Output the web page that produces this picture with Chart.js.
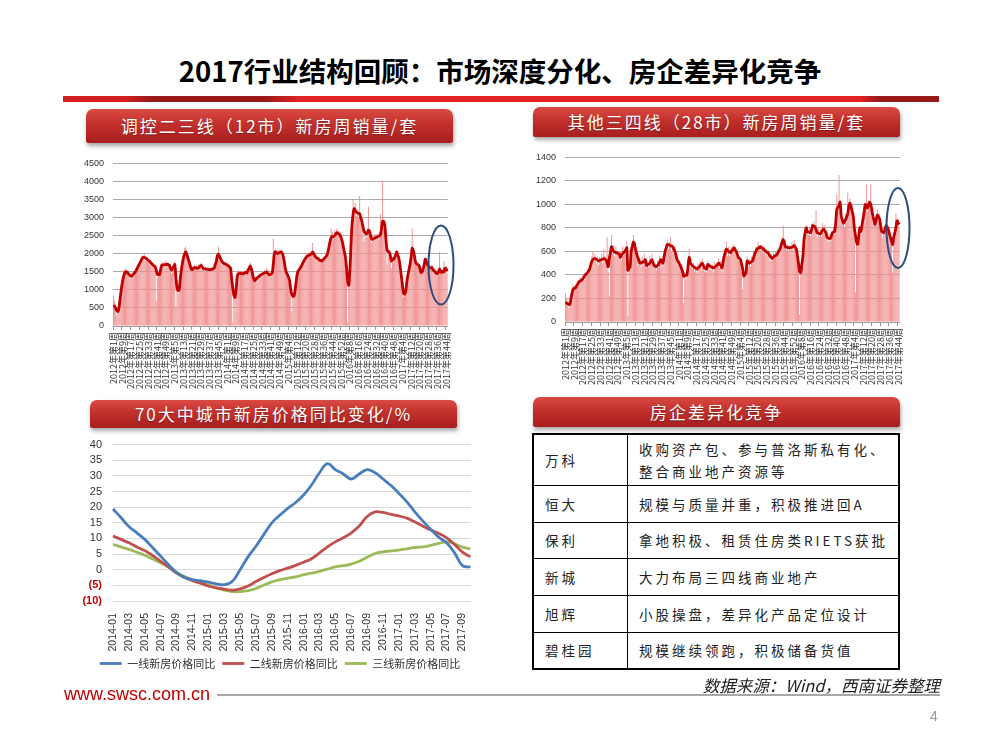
<!DOCTYPE html>
<html lang="zh-CN">
<head>
<meta charset="UTF-8">
<title>2017行业结构回顾</title>
<script src="https://cdn.jsdelivr.net/npm/chart.js@4.4.0/dist/chart.umd.min.js"></script>
<style>
  html, body { margin: 0; padding: 0; background: #fff; }
  body { width: 1000px; height: 750px; position: relative; overflow: hidden;
         font-family: "Noto Sans CJK SC", "Noto Sans", sans-serif; }
  .title { position: absolute; left: 0; top: 51px; width: 1000px; text-align: center;
           font-size: 27.5px; line-height: 38px; font-weight: bold; color: #000; }
  .topbar { position: absolute; left: 63px; top: 96px; width: 876px; height: 6px;
            background: linear-gradient(to right, #D41F1F 0%, #D41F1F 7%, #9A1A1A 10%, #9A1A1A 23%,
                        #E02222 27%, #E02222 91%, #9A1A1A 93%, #9A1A1A 100%); }
  .banner { position: absolute; color: #fff; text-align: center; font-size: 17px; letter-spacing: 2px;
            border-radius: 7px 7px 2px 2px;
            background: linear-gradient(#DA4A44 0%, #C2302C 45%, #A81E1E 100%);
            box-shadow: 1px 3px 4px rgba(0,0,0,0.35); text-shadow: 0 1px 1px rgba(0,0,0,0.3); }
  .box { position: absolute; }
  table.firms { position: absolute; left: 532px; top: 433px; width: 368px; height: 235px;
                border-collapse: collapse; border: 2px solid #000; font-size: 13.5px;
                letter-spacing: 3px; color: #222; }
  table.firms td { border: 1.5px solid #000; padding: 0 0 0 11px; line-height: 22px; }
  table.firms td.name { width: 82px; }
  .url { position: absolute; left: 64px; top: 683px; font-family: Arial, "Liberation Sans", sans-serif;
         font-size: 18px; line-height: 22px; color: #C00000; }
  .rule { position: absolute; left: 217px; top: 694px; width: 723px; height: 0;
          border-top: 2px solid #A8A8A8; z-index: 5; }
  .source { position: absolute; right: 60px; top: 676px; font-size: 16.5px; line-height: 18px;
            font-style: italic; color: #222; }
  .page { position: absolute; left: 930px; top: 708px; font-family: Arial, sans-serif; font-size: 14px; color: #999; }
  svg.ov { position: absolute; left: 0; top: 0; pointer-events: none; }
</style>
</head>
<body>

<div class="title">2017行业结构回顾：市场深度分化、房企差异化竞争</div>
<div class="topbar"></div>

<div class="banner" style="left:86px; top:109px; width:367px; height:34px; line-height:34px;">调控二三线（12市）新房周销量/套</div>
<div class="banner" style="left:533px; top:107px; width:367px; height:30px; line-height:30px;">其他三四线（28市）新房周销量/套</div>
<div class="banner" style="left:90px; top:400px; width:367px; height:28px; line-height:28px;">70大中城市新房价格同比变化/%</div>
<div class="banner" style="left:533px; top:397px; width:367px; height:30px; line-height:30px;">房企差异化竞争</div>

<div class="box" style="left:80px; top:149px; width:380px; height:249px;"><canvas id="sales12-chart"></canvas></div>
<div class="box" style="left:532px; top:143px; width:380px; height:251px;"><canvas id="sales28-chart"></canvas></div>
<div class="box" style="left:73px; top:427px; width:414px; height:252px;"><canvas id="price-chart"></canvas></div>

<table class="firms">
  <tr style="height:51px"><td class="name">万科</td><td>收购资产包、参与普洛斯私有化、<br>整合商业地产资源等</td></tr>
  <tr style="height:37px"><td class="name">恒大</td><td>规模与质量并重，积极推进回A</td></tr>
  <tr style="height:36px"><td class="name">保利</td><td>拿地积极、租赁住房类RIETS获批</td></tr>
  <tr style="height:37px"><td class="name">新城</td><td>大力布局三四线商业地产</td></tr>
  <tr style="height:37px"><td class="name">旭辉</td><td>小股操盘，差异化产品定位设计</td></tr>
  <tr style="height:37px"><td class="name">碧桂园</td><td>规模继续领跑，积极储备货值</td></tr>
</table>

<svg class="ov" width="1000" height="750">
  <ellipse cx="441" cy="265" rx="12.5" ry="39.5" fill="none" stroke="#2E4C7E" stroke-width="2"/>
  <ellipse cx="898" cy="228" rx="11.5" ry="40" fill="none" stroke="#2E4C7E" stroke-width="2"/>
</svg>

<div class="source">数据来源：Wind，西南证券整理</div>
<div class="url">www.swsc.com.cn</div>
<div class="rule"></div>
<div class="page">4</div>

<script>
// 周度横轴：年份及每年周数
const weekYears = [2012, 2013, 2014, 2015, 2016, 2017];
const weeksPerYear = [52, 52, 53, 52, 52, 45];

// 调控二三线（12市）：周销量柱 + 均线
const bar12 = [
  850,700,560,300,450,620,900,1150,1350,1500,
  1550,1600,1450,1520,1380,1300,1450,1350,1500,1420,
  1600,1520,1700,1650,1800,1700,1950,1850,2000,1800,
  1900,1780,1850,1700,1800,1650,1750,1600,1700,700,
  1350,1500,1380,1600,1750,1650,1780,1620,1800,1680,
  1750,1600,1700,1450,1650,1600,1800,500,1000,900,
  1100,1400,1650,1850,2000,2150,2200,1900,1950,1700,
  1750,1500,1650,1550,1700,1580,1680,1550,1700,1600,
  1750,1580,1650,1500,1650,1520,1620,1500,1600,1520,
  1650,1520,1700,1650,1900,2050,2200,1850,1950,1700,
  1800,1680,1780,1650,1750,1600,1700,1500,1200,100,
  950,750,1100,1450,1550,1380,1520,1400,1500,1420,
  1550,1430,1520,1600,1700,1750,1500,1400,1250,1300,
  1350,1250,1420,1300,1450,1380,1500,1400,1550,1450,
  1600,1400,1480,1380,1500,1420,2420,2100,2150,1950,
  2100,1980,2120,2000,2100,1900,1850,1550,1400,1500,
  1300,1200,900,400,850,780,1100,1300,1550,1480,
  1650,1580,1750,1700,1850,1800,1980,1880,2050,1900,
  2050,1950,2300,1950,2050,1850,1950,1800,1900,1750,
  1850,1780,1900,1850,2000,1900,2150,2300,2450,2700,
  2600,2400,2650,2500,2700,2550,2650,2450,2550,2300,
  2300,2000,1950,1550,100,1100,1600,2300,2900,3500,
  3300,3400,3050,3200,3000,3600,2900,3000,2700,2350,
  2650,2450,2700,3300,2550,2450,2300,2500,2350,2550,
  2400,2550,2400,2600,3100,2800,4020,2750,2950,2300,
  1700,2100,1950,2000,1600,1900,1750,2000,1900,2100,
  1850,1950,1550,1450,1100,800,900,1000,1250,1500,
  1600,1800,2000,2700,2000,2050,1700,1800,1650,1750,
  1550,1450,1550,1650,1800,1900,1700,1750,1600,1700,
  1550,1700,1500,1600,1450,1500,1400,1550,2050,1450,
  1550,1450,1800,1550,1650,1450
];
const line12 = [
  580,540,480,430,400,520,750,1000,1200,1350,
  1450,1500,1500,1470,1430,1400,1380,1400,1430,1460,
  1500,1560,1620,1680,1740,1800,1860,1900,1900,1890,
  1870,1840,1810,1790,1750,1720,1690,1660,1640,1550,
  1430,1420,1420,1550,1680,1690,1690,1700,1700,1710,
  1700,1680,1600,1550,1600,1650,1700,1350,1050,980,
  1000,1300,1550,1750,1900,2000,2050,1980,1880,1780,
  1680,1580,1560,1600,1620,1620,1600,1600,1620,1650,
  1680,1640,1600,1580,1580,1570,1570,1560,1560,1560,
  1570,1580,1600,1700,1800,1950,1980,1920,1850,1790,
  1750,1730,1720,1700,1680,1660,1630,1600,1300,1050,
  850,790,1000,1350,1450,1440,1460,1450,1440,1460,
  1470,1480,1470,1550,1600,1660,1580,1450,1320,1250,
  1290,1320,1350,1370,1400,1420,1440,1450,1470,1480,
  1500,1460,1420,1420,1440,1460,1700,2000,2050,2030,
  2000,2020,2040,2050,2020,1950,1800,1600,1480,1420,
  1350,1250,1000,870,820,830,1000,1250,1450,1530,
  1580,1620,1680,1740,1800,1850,1900,1930,1950,1960,
  1980,2000,2050,2000,1950,1900,1880,1860,1830,1810,
  1800,1820,1850,1880,1920,1950,2050,2200,2350,2450,
  2480,2470,2500,2540,2580,2570,2550,2520,2450,2350,
  2200,2050,1900,1600,1250,1130,1500,2200,2800,3100,
  3250,3200,3150,3130,3120,3100,3000,2900,2750,2620,
  2580,2550,2580,2650,2620,2500,2400,2400,2420,2440,
  2450,2460,2480,2500,2520,2700,2900,2880,2780,2400,
  2100,2060,2050,1950,1800,1820,1850,1900,1980,2050,
  1950,1850,1650,1400,1150,920,880,950,1200,1400,
  1550,1700,1900,2150,2100,1950,1780,1720,1700,1680,
  1600,1480,1500,1580,1700,1850,1780,1700,1650,1620,
  1600,1620,1560,1530,1500,1460,1450,1500,1580,1500,
  1480,1520,1500,1600,1580,1520
];

// 其他三四线（28市）：周销量柱 + 均线
const bar28 = [
  240,200,160,120,140,230,280,320,300,310,
  330,300,360,380,340,370,400,360,420,390,
  440,410,480,500,560,600,520,580,500,560,
  480,550,520,580,500,620,560,480,720,430,
  220,600,740,580,650,560,640,570,600,540,
  600,520,640,560,620,580,690,50,480,440,
  620,640,740,620,680,550,590,480,540,470,
  560,480,580,500,460,520,470,560,490,580,
  520,470,500,440,520,460,560,500,540,470,
  580,620,650,700,620,680,720,600,660,580,
  640,540,580,490,520,450,480,400,160,420,
  360,420,520,620,470,540,450,500,430,480,
  420,500,440,520,460,540,500,430,480,420,
  520,450,500,440,490,430,510,460,500,470,
  540,460,520,430,560,620,580,680,560,640,
  560,620,600,660,590,640,570,600,520,560,
  500,520,280,420,380,460,560,480,540,470,
  560,500,600,560,640,600,680,620,660,610,
  650,590,640,570,620,560,610,520,580,520,
  590,540,600,550,620,580,650,680,720,820,
  640,700,610,660,600,650,620,680,610,700,
  660,600,580,460,60,470,520,600,740,820,
  780,820,740,800,730,840,780,860,780,950,
  720,800,730,780,720,840,760,820,700,780,
  680,750,690,770,730,800,740,880,1080,950,
  1250,980,940,830,880,800,920,850,1100,960,
  1050,940,1000,860,820,250,700,640,780,820,
  740,860,850,980,960,1170,940,1040,1000,1170,
  900,980,840,880,820,960,860,920,780,810,
  720,800,760,880,760,820,720,760,650,420,
  700,780,920,830,880,800
];
const line28 = [
  170,160,155,150,150,200,250,280,285,290,
  305,320,340,345,352,360,372,385,400,410,
  420,435,450,485,515,530,538,540,535,528,
  520,523,527,530,535,540,535,530,500,470,
  540,590,640,620,600,595,590,587,583,580,
  550,565,580,590,600,610,630,440,455,470,
  600,640,680,660,620,580,550,525,500,503,
  507,510,520,530,480,487,493,500,515,530,
  505,480,475,470,480,490,510,530,515,500,
  550,600,630,660,657,653,650,645,640,620,
  600,565,530,513,497,480,455,430,390,393,
  397,400,475,550,500,490,480,470,463,457,
  450,458,466,478,490,500,480,460,455,450,
  490,482,475,470,465,460,465,470,480,490,
  500,490,480,460,510,560,590,620,610,600,
  595,590,605,620,630,615,600,575,550,540,
  530,490,450,390,405,420,520,510,500,507,
  513,520,550,580,600,620,627,633,640,633,
  627,620,610,600,595,590,575,560,550,540,
  550,560,565,570,587,603,620,650,680,700,
  670,640,637,633,630,632,634,635,643,650,
  635,620,560,495,430,420,490,560,700,760,
  800,770,766,762,760,790,820,815,810,785,
  760,756,752,750,766,782,790,775,760,720,
  715,712,710,730,760,765,770,850,960,975,
  990,1020,900,870,840,855,870,895,920,990,
  1010,980,940,900,800,740,680,660,730,800,
  770,825,880,940,1000,985,970,1000,1020,1000,
  950,900,865,830,870,910,895,880,825,770,
  765,760,790,820,805,790,755,720,690,660,
  720,760,800,860,845,830
];

// 70大中城市新房价格同比
const monthLabels = [
  '2014-01','2014-02','2014-03','2014-04','2014-05','2014-06','2014-07','2014-08','2014-09','2014-10','2014-11','2014-12',
  '2015-01','2015-02','2015-03','2015-04','2015-05','2015-06','2015-07','2015-08','2015-09','2015-10','2015-11','2015-12',
  '2016-01','2016-02','2016-03','2016-04','2016-05','2016-06','2016-07','2016-08','2016-09','2016-10','2016-11','2016-12',
  '2017-01','2017-02','2017-03','2017-04','2017-05','2017-06','2017-07','2017-08','2017-09','2017-10'
];
const tier1 = [19.4,16.7,13.8,11.8,9.7,7.0,4.3,1.6,-0.9,-2.5,-3.2,-3.5,
               -4.0,-4.5,-4.8,-3.8,0,4.1,7.5,11.3,15.0,17.4,19.6,21.5,
               23.9,27.1,31.0,33.9,32.0,30.6,29.0,30.6,32.0,31.0,29.0,26.9,
               24.4,21.7,18.5,15.6,12.9,10.4,8.6,5.4,1.3,0.9];
const tier2 = [10.8,9.7,8.6,7.3,6.1,4.5,2.7,0.9,-1.1,-2.5,-3.5,-4.3,
               -5.2,-5.8,-6.2,-6.5,-6.1,-5.2,-3.8,-2.5,-1.3,-0.3,0.5,1.4,
               2.4,3.5,5.4,7.3,8.9,10.2,11.8,14.0,17.0,18.5,18.3,17.7,
               17.2,16.5,15.3,14.0,12.7,11.6,10.2,8.1,5.6,4.1];
const tier3 = [8.1,7.3,6.5,5.6,4.6,3.4,2.2,0.8,-0.8,-2.2,-3.2,-4.1,
               -4.9,-5.8,-6.5,-7.0,-7.0,-6.7,-6.0,-4.9,-3.9,-3.2,-2.7,-2.3,
               -1.6,-1.1,-0.5,0.2,0.9,1.3,1.8,2.7,4.0,5.2,5.7,6.0,
               6.3,6.7,7.1,7.3,7.8,8.4,8.9,8.3,7.2,6.7];

// 生成周度标签
function buildWeekLabels() {
    const labels = [];
    weekYears.forEach((year, i) => {
        for (let w = 1; w <= weeksPerYear[i]; w++) {
            labels.push(year + '年第' + w + '周');
        }
    });
    return labels;
}

// 周销量图（柱 + 均线）
function renderSalesChart(canvasId, bars, line, yMax, yStep) {
    const ctx = document.getElementById(canvasId).getContext('2d');
    const labels = buildWeekLabels();

    return new Chart(ctx, {
        type: 'bar',
        data: {
            labels: labels,
            datasets: [{
                type: 'line',
                data: line,
                borderColor: '#C00000',
                borderWidth: 2.8,
                pointRadius: 0,
                tension: 0.3,
                order: 0
            }, {
                type: 'bar',
                data: bars,
                backgroundColor: '#F09090',
                barPercentage: 0.85,
                categoryPercentage: 1,
                order: 1
            }]
        },
        options: {
            responsive: true,
            maintainAspectRatio: false,
            animation: false,
            layout: { padding: { right: 4 } },
            plugins: {
                legend: { display: false },
                tooltip: { enabled: false }
            },
            scales: {
                x: {
                    grid: {
                        display: true,
                        drawOnChartArea: false,
                        tickLength: 4,
                        color: c => (c.index % 8 === 0 ? '#999' : 'rgba(0,0,0,0)')
                    },
                    border: { display: true, color: '#999' },
                    ticks: {
                        autoSkip: false,
                        minRotation: 90,
                        maxRotation: 90,
                        padding: 2,
                        font: { size: 9, family: 'Noto Sans CJK SC' },
                        color: '#333',
                        callback: (v, i) => (i % 8 === 0 ? labels[i] : '')
                    },
                    afterFit: s => { s.height = 72; }
                },
                y: {
                    min: 0,
                    max: yMax,
                    grid: { color: '#AAAAAA', drawTicks: false },
                    border: { display: false },
                    ticks: {
                        stepSize: yStep,
                        padding: 9,
                        font: { size: 9, family: 'Arial' },
                        color: '#333',
                        callback: v => String(v)
                    },
                    afterFit: s => { s.width = 33; }
                }
            }
        }
    });
}

// 房价同比折线图
function renderPriceChart() {
    const ctx = document.getElementById('price-chart').getContext('2d');

    const series = [
        { label: '一线新房价格同比', data: tier1, color: '#4A7EBB' },
        { label: '二线新房价格同比', data: tier2, color: '#C0504D' },
        { label: '三线新房价格同比', data: tier3, color: '#9BBB59' }
    ];

    return new Chart(ctx, {
        type: 'line',
        data: {
            labels: monthLabels,
            datasets: series.map(s => ({
                label: s.label,
                data: s.data,
                borderColor: s.color,
                backgroundColor: s.color,
                borderWidth: 2.8,
                pointRadius: 0,
                tension: 0.4
            }))
        },
        options: {
            responsive: true,
            maintainAspectRatio: false,
            animation: false,
            plugins: {
                legend: {
                    position: 'bottom',
                    labels: {
                        usePointStyle: true,
                        pointStyle: 'line',
                        pointStyleWidth: 22,
                        padding: 7,
                        font: { size: 11, family: 'Noto Sans CJK SC' },
                        color: '#333'
                    }
                },
                tooltip: { enabled: false }
            },
            scales: {
                x: {
                    grid: { display: false },
                    border: { display: false },
                    ticks: {
                        autoSkip: false,
                        minRotation: 90,
                        maxRotation: 90,
                        padding: 4,
                        font: { size: 10.5, family: 'Arial' },
                        color: '#333',
                        callback: (v, i) => (i % 2 === 0 ? monthLabels[i] : '')
                    },
                    afterFit: s => { s.height = 50; }
                },
                y: {
                    min: -10,
                    max: 40,
                    grid: { color: '#D9D9D9', drawTicks: false },
                    border: { display: false },
                    ticks: {
                        stepSize: 5,
                        autoSkip: false,
                        padding: 11,
                        color: c => (c.tick && c.tick.value < 0 ? '#C00000' : '#333'),
                        font: c => ({
                            size: 11,
                            family: 'Arial',
                            weight: c.tick && c.tick.value < 0 ? 'bold' : 'normal'
                        }),
                        callback: v => (v < 0 ? '(' + (-v) + ')' : String(v))
                    },
                    afterFit: s => { s.width = 40; }
                }
            }
        }
    });
}

renderSalesChart('sales12-chart', bar12, line12, 4500, 500);
renderSalesChart('sales28-chart', bar28, line28, 1400, 200);
renderPriceChart();
</script>
</body>
</html>
